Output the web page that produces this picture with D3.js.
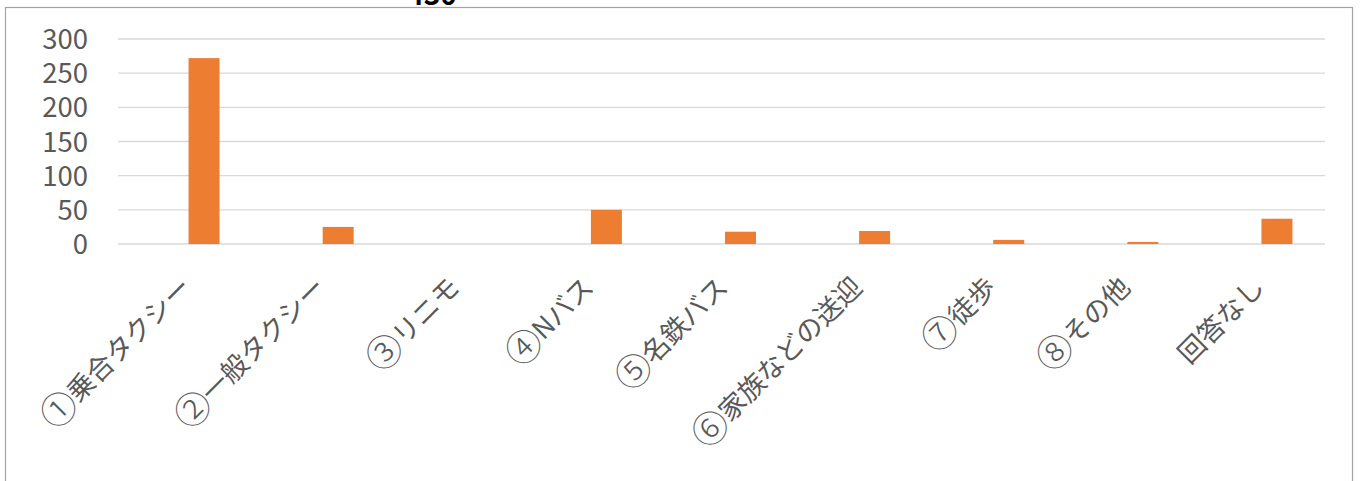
<!DOCTYPE html>
<html><head><meta charset="utf-8">
<script src="https://cdn.jsdelivr.net/npm/d3@7"></script>
<style>html,body{margin:0;padding:0;background:#fff;overflow:hidden;}</style>
</head><body>
<svg id="chart" width="1360" height="481"></svg>
<script>
const categories = ["①乗合タクシー","②一般タクシー","③リニモ","④Nバス","⑤名鉄バス","⑥家族などの送迎","⑦徒歩","⑧その他","回答なし"];
const values = [272, 25, 0, 50, 18, 19, 6, 3, 37];
const yTicks = [0, 50, 100, 150, 200, 250, 300];
const topNote = "430";

const svg = d3.select("#chart");
const font = "'Noto Sans CJK JP','Noto Sans',sans-serif";

// chart frame
svg.append("rect").attr("x",5.5).attr("y",7.5).attr("width",1347).attr("height",520)
  .attr("fill","#fff").attr("stroke","#a3a3a3").attr("stroke-width",1.2);

// clipped text above the frame
svg.append("text").attr("x",432).attr("y",5).attr("text-anchor","middle")
  .attr("font-family",font).attr("font-size",28).attr("font-weight","bold")
  .attr("fill","#000").text(topNote);

const x = d3.scaleBand().domain(categories).range([118,1325]).padding(0);
const y = d3.scaleLinear().domain([0,300]).range([244,39]);

// gridlines
svg.append("g").selectAll("line").data(yTicks).join("line")
  .attr("x1",118).attr("x2",1325)
  .attr("y1",d=>y(d)).attr("y2",d=>y(d))
  .attr("stroke","#d9d9d9").attr("stroke-width",1.3);

// y axis labels
const yAxis = d3.axisLeft(y).tickValues(yTicks).tickSize(0).tickPadding(0);
const gy = svg.append("g").attr("transform","translate(88,0)").call(yAxis);
gy.select(".domain").remove();
gy.selectAll("text").attr("font-family",font).attr("font-size",27.5)
  .attr("fill","#595959").attr("dy","0.35em");

// bars
const barW = 31;
svg.append("g").selectAll("rect").data(values).join("rect")
  .attr("x",(d,i)=>x(categories[i]) + x.bandwidth()/2 + 3.5)
  .attr("width",barW)
  .attr("y",d=>y(d))
  .attr("height",d=>y(0)-y(d))
  .attr("fill","#ed7d31");

// x labels
const circled = /^[\u2460-\u2473]/;
const lab = svg.append("g").selectAll("text").data(categories).join("text")
  .attr("transform",d=>`translate(${x(d)+x.bandwidth()/2+8},289) rotate(-45)`)
  .attr("text-anchor","end")
  .attr("font-family",font).attr("font-size",27)
  .attr("fill","#595959");
lab.each(function(d){
  const t = d3.select(this);
  if (circled.test(d)) {
    t.append("tspan").attr("font-size",36).attr("dy",3.5).attr("font-weight",300).text(d[0]);
    t.append("tspan").attr("dy",-3.5).text(d.slice(1));
  } else {
    t.text(d);
  }
});
</script>
</body></html>
